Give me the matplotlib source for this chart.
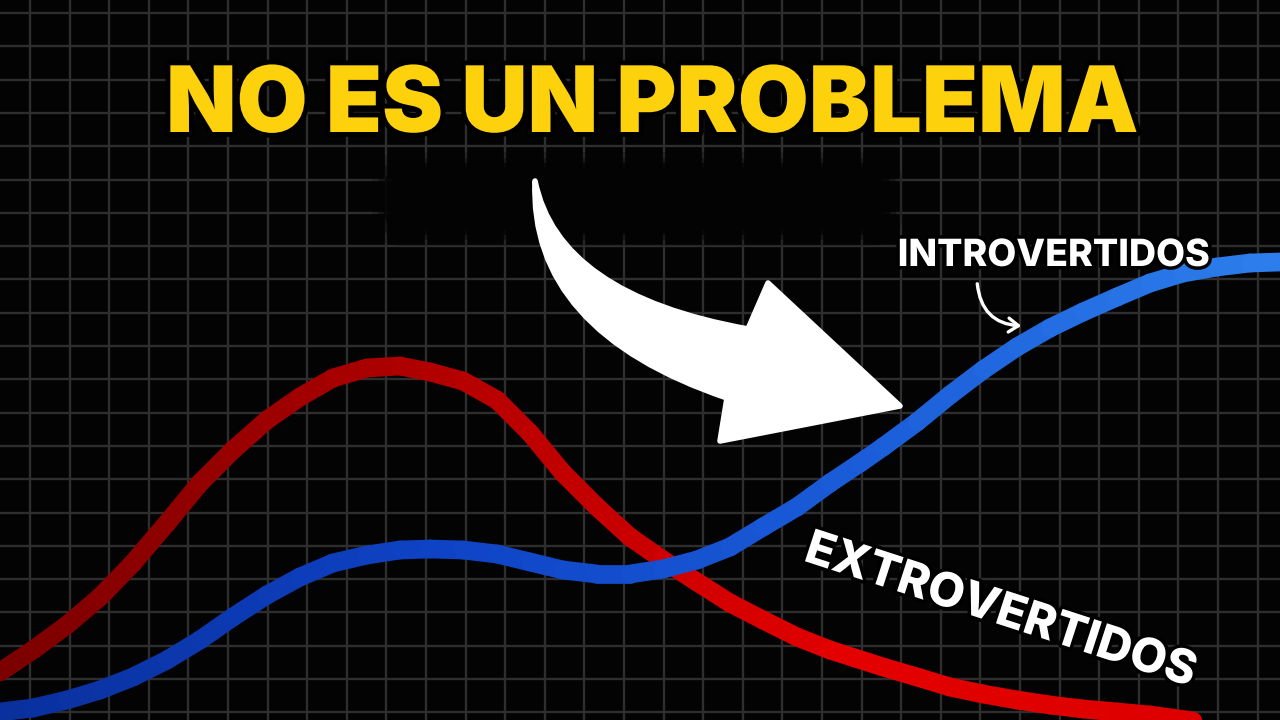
import numpy as np
import matplotlib
matplotlib.use("Agg")
import matplotlib.pyplot as plt
from matplotlib.collections import LineCollection
from matplotlib.patches import PathPatch, FancyBboxPatch, FancyArrowPatch
from matplotlib.path import Path
from matplotlib.colors import LinearSegmentedColormap
import matplotlib.patheffects as pe

# canvas is laid out in pixel units (1280 x 720, y down)
W, H = 1280, 720

# curves (x, y in pixels)
red_x = [0, 33, 67, 100, 133, 167, 200, 233, 267, 300, 333, 367, 400, 430,
         463, 497, 530, 563, 597, 630, 663, 697, 730, 763, 797, 830, 855, 883,
         917, 950, 983, 1017, 1050, 1083, 1117, 1150, 1200]
red_y = [672, 650, 625, 597, 563, 523, 483, 450, 420, 397, 378, 368, 366, 372,
         381, 400, 433, 473, 507, 537, 560, 582, 603, 620, 637, 650, 658, 667,
         677, 687, 694, 700, 705, 709, 712, 715, 722]

blue_x = [0, 33, 67, 100, 133, 167, 200, 233, 267, 300, 333, 367, 400, 430,
          463, 497, 530, 563, 597, 630, 663, 697, 730, 763, 797, 830, 860, 883,
          917, 950, 983, 1017, 1050, 1083, 1117, 1150, 1183, 1217, 1250, 1280]
blue_y = [712, 708, 700, 690, 677, 660, 640, 617, 595, 577, 563, 555, 550, 549,
          550, 554, 562, 570, 574, 574, 569, 560, 547, 527, 507, 483, 463, 447,
          422, 395, 370, 347, 328, 312, 297, 283, 273, 267, 263, 262]

title = "NO ES UN PROBLEMA"
label_intro = "INTROVERTIDOS"
label_extro = "EXTROVERTIDOS"

BG = "#030303"
GRID = "#2e2e2e"
YELLOW = "#fdd10b"

red_cmap = LinearSegmentedColormap.from_list("reds", ["#7a0000", "#b00000", "#e30000", "#dc0000"])
blue_cmap = LinearSegmentedColormap.from_list("blues", ["#0a2f9c", "#0e42c4", "#1a5bd8", "#2d7eec"])


def gradient_line(ax, x, y, cmap, lw):
    pts = np.column_stack([x, y]).reshape(-1, 1, 2)
    segs = np.concatenate([pts[:-1], pts[1:]], axis=1)
    mid = (np.asarray(x[:-1]) + np.asarray(x[1:])) / 2 / W
    lc = LineCollection(segs, colors=cmap(mid), linewidths=lw,
                        capstyle="round", joinstyle="round", zorder=3)
    ax.add_collection(lc)


fig = plt.figure(figsize=(12.8, 7.2), dpi=100, facecolor=BG)
ax = fig.add_axes([0, 0, 1, 1])
ax.set_facecolor(BG)
ax.set_xlim(0, W)
ax.set_ylim(H, 0)

# background grid
ax.set_xticks(np.arange(30, W, 39.6))
ax.set_yticks(np.arange(13, H, 33.3))
ax.grid(True, color=GRID, linewidth=1.7)
ax.tick_params(length=0, labelbottom=False, labelleft=False)
for s in ax.spines.values():
    s.set_visible(False)

# hidden subtitle blob (soft black patch over the grid)
for pad, a in [(16, 0.2), (10, 0.4), (5, 0.7), (0, 1.0)]:
    ax.add_patch(FancyBboxPatch((388 - pad, 168 - pad), 498 + 2 * pad, 62 + 2 * pad,
                                boxstyle="round,pad=0,rounding_size=30",
                                facecolor=BG, edgecolor="none", alpha=a, zorder=2))

gradient_line(ax, red_x, red_y, red_cmap, 13.5)
gradient_line(ax, blue_x, blue_y, blue_cmap, 13.5)

# big curved white arrow
arrow_verts = [(535, 181), (558, 295), (748, 329),      # upper edge of the shaft
               (768, 283), (900, 406), (720, 441),      # head
               (727, 398), (529, 331), (535, 181),      # lower edge back to tail
               (535, 181)]
arrow_codes = [Path.MOVETO, Path.CURVE3, Path.CURVE3,
               Path.LINETO, Path.LINETO, Path.LINETO,
               Path.LINETO, Path.CURVE3, Path.CURVE3,
               Path.CLOSEPOLY]
ax.add_patch(PathPatch(Path(arrow_verts, arrow_codes), facecolor="white",
                       edgecolor="white", linewidth=4, joinstyle="round", zorder=5))

ax.text(652, 108, title, color=YELLOW, fontsize=66, fontweight="black",
        family="Inter", ha="center", va="center", zorder=6,
        path_effects=[pe.withStroke(linewidth=7, foreground="#000000")])

ax.text(1054, 256, label_intro, color="white", fontsize=27, fontweight="heavy",
        family="Inter", ha="center", va="center", zorder=6,
        path_effects=[pe.withStroke(linewidth=5, foreground="#000000")])

ax.text(1000, 612, label_extro, color="white", fontsize=34, fontweight="heavy",
        family="Inter", ha="center", va="center", rotation=-18,
        rotation_mode="anchor", zorder=6,
        path_effects=[pe.withStroke(linewidth=5, foreground="#000000")])

ax.add_patch(FancyArrowPatch((977, 281), (1024, 326),
                             connectionstyle="arc3,rad=0.45",
                             arrowstyle="->,head_length=7,head_width=5",
                             color="white", linewidth=2.4, zorder=6))

fig.savefig("out.png", dpi=100, facecolor=BG)
